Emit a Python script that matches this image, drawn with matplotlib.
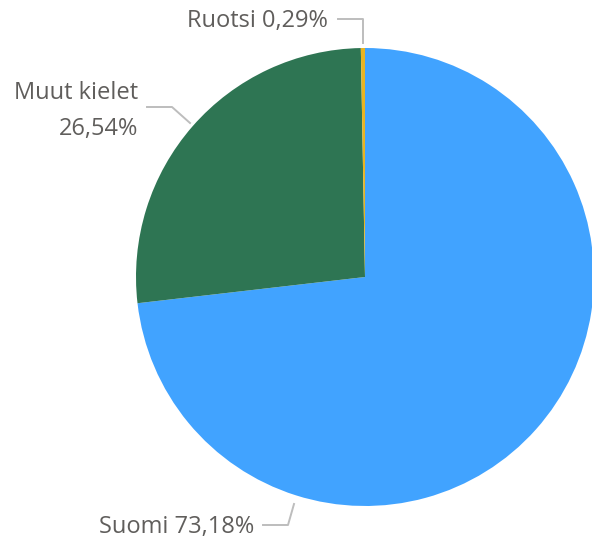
import matplotlib.pyplot as plt

labels = ['Suomi', 'Muut kielet', 'Ruotsi']
shares = [73.18, 26.54, 0.29]
colors = ['#41A3FF', '#2E7553', '#E8B422']

W, H = 592, 539
fig = plt.figure(figsize=(W / 100, H / 100), dpi=100)
ax = fig.add_axes([0, 0, 1, 1])

cx, cy, r = 365, H - 277, 229
ax.pie(shares, colors=colors, startangle=90, counterclock=False,
       center=(cx, cy), radius=r, frame=True,
       wedgeprops=dict(linewidth=0))
ax.set_xlim(0, W)
ax.set_ylim(0, H)
ax.set_aspect('equal')
ax.axis('off')

txt = dict(color='#605E5C', fontsize=17, family='Open Sans')
line = dict(color='#BDBDBD', lw=1.4)

# Ruotsi
ax.plot([338, 363, 363], [H - 19, H - 19, H - 43], **line)
ax.text(328, H - 21, 'Ruotsi 0,29%', ha='right', va='center', **txt)
# Muut kielet
ax.plot([147, 172, 190], [H - 107, H - 107, H - 123], **line)
ax.text(138, H - 93, 'Muut kielet', ha='right', va='center', **txt)
ax.text(138, H - 129, '26,54%', ha='right', va='center', **txt)
# Suomi
ax.plot([263, 288, 294], [H - 525, H - 525, H - 504], **line)
ax.text(254, H - 527, 'Suomi 73,18%', ha='right', va='center', **txt)

fig.savefig('out.png', dpi=100)
